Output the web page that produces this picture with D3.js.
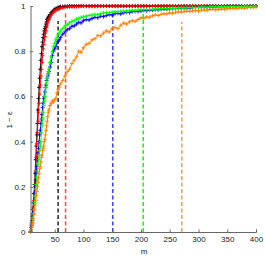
<!DOCTYPE html>
<html>
<head>
<meta charset="utf-8">
<script src="https://cdn.jsdelivr.net/npm/d3@7"></script>
<style>
  html, body { margin: 0; padding: 0; background: #fff; }
  svg { display: block; font-family: 'Liberation Sans', Arial, sans-serif; }
</style>
</head>
<body>
<div id="chart"></div>
<script>
// shared m grid
const mValues = [
  8, 9, 10, 11, 12, 13, 14, 15, 16, 17, 18, 19, 20, 21, 22, 23, 24, 25, 26, 27, 28, 29, 30,
  31, 32, 33, 34, 35, 36, 37, 38, 39, 40,
  42, 44, 46, 48, 50, 52, 54, 56, 58, 60,
  64, 68, 72, 76, 80, 84, 88, 92, 96, 100,
  105, 110, 115, 120, 125, 130, 135, 140, 145, 150, 155, 160, 165, 170, 175, 180, 185, 190, 195, 200,
  205, 210, 215, 220, 225, 230, 235, 240, 245, 250, 255, 260, 265, 270, 275, 280, 285, 290, 295, 300,
  305, 310, 315, 320, 325, 330, 335, 340, 345, 350, 355, 360, 365, 370, 375, 380, 385, 390, 395, 400,
];

const blackValues = [
  0, 0.02, 0.04, 0.07, 0.1, 0.13, 0.17, 0.21, 0.26, 0.32, 0.38, 0.43, 0.48, 0.54, 0.59, 0.64, 0.68, 0.72, 0.76, 0.79, 0.82, 0.84, 0.86,
  0.875, 0.89, 0.9, 0.91, 0.92, 0.93, 0.94, 0.945, 0.95, 0.955,
  0.962, 0.97, 0.975, 0.98, 0.985, 0.988, 0.99, 0.993, 0.995, 0.997,
  0.998, 0.999, 0.999, 1, 1, 1, 1, 1, 1, 1,
  1, 1, 1, 1, 1, 1, 1, 1, 1, 1, 1, 1, 1, 1, 1, 1, 1, 1, 1, 1,
  1, 1, 1, 1, 1, 1, 1, 1, 1, 1, 1, 1, 1, 1, 1, 1, 1, 1, 1, 1,
  1, 1, 1, 1, 1, 1, 1, 1, 1, 1, 1, 1, 1, 1, 1, 1, 1, 1, 1, 1,
];

const redValues = [
  0, 0.01, 0.03, 0.05, 0.08, 0.11, 0.14, 0.17, 0.21, 0.27, 0.33, 0.39, 0.44, 0.49, 0.53, 0.57, 0.61, 0.65, 0.69, 0.72, 0.75, 0.78, 0.81,
  0.83, 0.85, 0.865, 0.88, 0.89, 0.905, 0.915, 0.925, 0.935, 0.94,
  0.95, 0.96, 0.967, 0.973, 0.978, 0.981, 0.984, 0.986, 0.988, 0.99,
  0.992, 0.994, 0.995, 0.996, 0.997, 0.997, 0.998, 0.998, 0.999, 0.999,
  0.999, 0.998, 0.999, 0.999, 1, 0.999, 1, 1, 0.999, 1, 1, 1, 1, 1, 1, 1, 1, 1, 1, 1,
  1, 1, 1, 1, 1, 1, 1, 1, 1, 1, 1, 1, 1, 1, 1, 1, 1, 1, 1, 1,
  1, 1, 1, 1, 1, 1, 1, 1, 1, 1, 1, 1, 1, 1, 1, 1, 1, 1, 1, 1,
];

const blueValues = [
  0, 0.02, 0.03, 0.05, 0.08, 0.1, 0.13, 0.17, 0.2, 0.23, 0.26, 0.29, 0.32, 0.35, 0.37, 0.4, 0.43, 0.45, 0.48, 0.5, 0.52, 0.55, 0.57,
  0.59, 0.6, 0.62, 0.64, 0.65, 0.67, 0.68, 0.69, 0.7, 0.71,
  0.73, 0.75, 0.78, 0.8, 0.81, 0.82, 0.835, 0.845, 0.85, 0.86,
  0.875, 0.885, 0.895, 0.9, 0.91, 0.912, 0.92, 0.928, 0.925, 0.935,
  0.94, 0.938, 0.945, 0.95, 0.948, 0.955, 0.953, 0.958, 0.962, 0.96, 0.966, 0.967, 0.965, 0.97, 0.972, 0.971, 0.975, 0.976, 0.975, 0.978,
  0.98, 0.979, 0.982, 0.982, 0.984, 0.983, 0.985, 0.987, 0.986, 0.988, 0.988, 0.989, 0.99, 0.989, 0.991, 0.992, 0.991, 0.993, 0.993, 0.994,
  0.994, 0.995, 0.995, 0.996, 0.995, 0.996, 0.997, 0.997, 0.997, 0.998, 0.998, 0.998, 0.998, 0.999, 0.999, 0.999, 0.999, 0.999, 1, 1,
];

const greenValues = [
  0, 0.01, 0.02, 0.04, 0.06, 0.08, 0.1, 0.13, 0.16, 0.19, 0.21, 0.24, 0.27, 0.3, 0.32, 0.34, 0.36, 0.38, 0.4, 0.44, 0.47, 0.5, 0.53,
  0.56, 0.58, 0.6, 0.62, 0.64, 0.66, 0.68, 0.7, 0.71, 0.72,
  0.75, 0.775, 0.8, 0.82, 0.835, 0.85, 0.86, 0.875, 0.88, 0.89,
  0.9, 0.912, 0.918, 0.925, 0.932, 0.935, 0.942, 0.945, 0.95, 0.952,
  0.955, 0.958, 0.96, 0.963, 0.962, 0.966, 0.969, 0.97, 0.971, 0.973, 0.974, 0.975, 0.977, 0.977, 0.978, 0.98, 0.981, 0.98, 0.982, 0.983,
  0.984, 0.985, 0.984, 0.986, 0.987, 0.987, 0.988, 0.989, 0.988, 0.99, 0.99, 0.991, 0.991, 0.992, 0.991, 0.993, 0.993, 0.994, 0.993, 0.994,
  0.995, 0.995, 0.994, 0.996, 0.996, 0.996, 0.997, 0.996, 0.997, 0.997, 0.998, 0.998, 0.997, 0.998, 0.998, 0.999, 0.999, 0.998, 0.999, 0.999,
];

const orangeValues = [
  0, 0.01, 0.02, 0.03, 0.04, 0.06, 0.08, 0.1, 0.12, 0.14, 0.16, 0.18, 0.2, 0.22, 0.24, 0.26, 0.28, 0.29, 0.31, 0.33, 0.34, 0.36, 0.37,
  0.38, 0.4, 0.41, 0.43, 0.45, 0.47, 0.49, 0.51, 0.53, 0.54,
  0.56, 0.57, 0.58, 0.575, 0.585, 0.59, 0.615, 0.63, 0.64, 0.655,
  0.67, 0.69, 0.71, 0.72, 0.745, 0.76, 0.775, 0.8, 0.795, 0.815,
  0.83, 0.835, 0.85, 0.855, 0.87, 0.868, 0.88, 0.89, 0.885, 0.9, 0.905, 0.9, 0.915, 0.925, 0.92, 0.93, 0.935, 0.932, 0.94, 0.948,
  0.945, 0.952, 0.95, 0.957, 0.96, 0.958, 0.963, 0.966, 0.965, 0.97, 0.968, 0.972, 0.974, 0.973, 0.976, 0.977, 0.976, 0.979, 0.98, 0.978,
  0.981, 0.982, 0.981, 0.984, 0.985, 0.983, 0.986, 0.987, 0.985, 0.988, 0.989, 0.99, 0.988, 0.991, 0.992, 0.99, 0.993, 0.994, 0.993, 0.995,
];

const seriesColors = ['#000000', '#ff0000', '#0000ff', '#00ff00', '#ff8000'];

// dashed markers: m position and height reached
const cutoffM = [56, 69, 151, 204, 271];
const cutoffTop = [0.934, 0.969, 0.965, 0.965, 0.929];
const cutoffColors = ['#333333', '#ff5050', '#4444ff', '#22ee22', '#ffa050'];

const xTicks = [50, 100, 150, 200, 250, 300, 350, 400];
const yTicks = [0, 0.2, 0.4, 0.6, 0.8, 1];

const series = [blackValues, redValues, blueValues, greenValues, orangeValues].map(
  (vals, i) => ({
    color: seriesColors[i],
    points: mValues.map((m, j) => ({ m, v: vals[j] })),
  })
);

const width = 266;
const height = 256;

const svg = d3
  .select('#chart')
  .append('svg')
  .attr('width', width)
  .attr('height', height);

const xScale = d3.scaleLinear().domain([8, 400]).range([30.5, 256]);
const yScale = d3.scaleLinear().domain([0, 1]).range([232, 6]);

// dashed cutoff lines
svg
  .append('g')
  .selectAll('line')
  .data(cutoffM)
  .join('line')
  .attr('x1', (d) => xScale(d))
  .attr('x2', (d) => xScale(d))
  .attr('y1', yScale(0))
  .attr('y2', (d, i) => yScale(cutoffTop[i]))
  .attr('stroke', (d, i) => cutoffColors[i])
  .attr('stroke-width', 1.6)
  .attr('stroke-dasharray', '4,2.5');

const line = d3
  .line()
  .x((d) => xScale(d.m))
  .y((d) => yScale(d.v));

const groups = svg
  .append('g')
  .selectAll('g')
  .data(series)
  .join('g');

groups
  .append('path')
  .attr('d', (d) => line(d.points))
  .attr('fill', 'none')
  .attr('stroke', (d) => d.color)
  .attr('stroke-width', 0.9);

const ms = 2;
groups
  .selectAll('path.mk')
  .data((d) => d.points.map((p) => ({ ...p, color: d.color })))
  .join('path')
  .attr('class', 'mk')
  .attr('d', (d) => {
    let x = xScale(d.m);
    let y = yScale(d.v);
    return `M${x - ms},${y}H${x + ms}M${x},${y - ms}V${y + ms}`;
  })
  .attr('stroke', (d) => d.color)
  .attr('stroke-width', 0.9);

// axes, ticks pointing inward
const xAxis = svg
  .append('g')
  .attr('transform', `translate(0, ${yScale(0)})`)
  .call(d3.axisBottom(xScale).tickValues(xTicks).tickSize(-2.5).tickPadding(4.5));

const yAxis = svg
  .append('g')
  .attr('transform', `translate(${xScale(8)}, 0)`)
  .call(d3.axisLeft(yScale).tickValues(yTicks).tickSize(-2.5).tickPadding(5).tickFormat(d3.format('')));

[xAxis, yAxis].forEach((ax) => {
  ax.select('.domain').attr('stroke', '#666');
  ax.selectAll('.tick line').attr('stroke', '#666');
  ax.selectAll('.tick text')
    .attr('fill', '#222')
    .style('font-size', '8px')
    .style('font-family', "'Liberation Sans', Arial, sans-serif");
});

svg
  .append('text')
  .attr('x', 144)
  .attr('y', 253.5)
  .attr('text-anchor', 'middle')
  .attr('fill', '#222')
  .style('font-size', '8px')
  .text('m');

svg
  .append('text')
  .attr('transform', 'translate(12, 120) rotate(-90)')
  .attr('text-anchor', 'middle')
  .attr('fill', '#222')
  .style('font-size', '8px')
  .text('1 − ε');
</script>
</body>
</html>
